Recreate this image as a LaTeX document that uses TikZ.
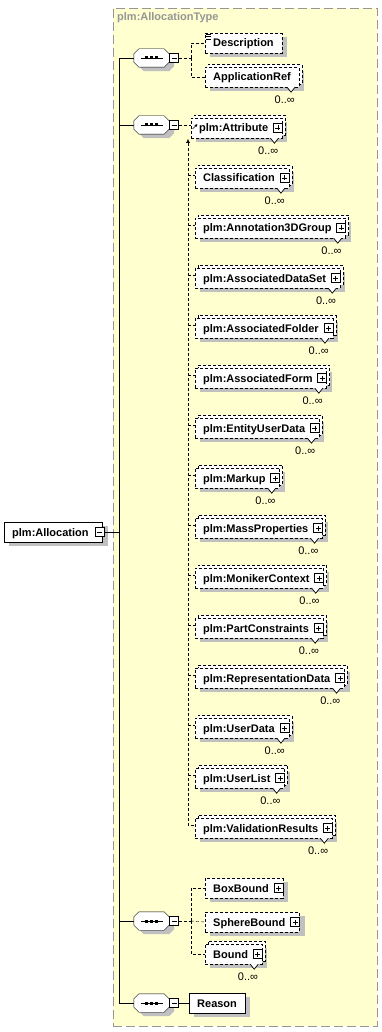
\documentclass[tikz,border=0pt]{standalone}
\usepackage{fontspec}
\setmainfont{Liberation Sans}
\usepackage{tikz}
\usetikzlibrary{arrows.meta,positioning,calc}
\definecolor{groupfill}{RGB}{255,255,208}
\definecolor{groupline}{RGB}{150,150,150}
\definecolor{shadegray}{RGB}{192,192,192}
\newcommand{\occ}{0..\char"221E}
\newcommand{\boxfont}{\fontsize{11}{12}\selectfont\bfseries}
\pgfdeclarelayer{frame}
\pgfdeclarelayer{shade}
\pgfsetlayers{frame,shade,main}

\begin{document}
\begin{tikzpicture}[x=1pt,y=-1pt,line width=0.9pt,
    elem/.style={draw,fill=white,anchor=west,font=\boxfont,minimum height=20pt,
      inner xsep=8pt,inner ysep=0pt,text height=8pt,text depth=0pt},
    opt/.style={dash pattern=on 3pt off 2pt},
    multi/.style={preaction={draw,fill=white,dash pattern=on 3pt off 2pt,
      transform canvas={shift={(3pt,3pt)}}}},
    expand/.style={execute at end node={\hspace*{6pt}}},
    plusbox/.style={draw,solid,fill=white,line width=0.7pt,minimum size=9pt,inner sep=0pt,
      path picture={\draw[line width=0.7pt]
        ([yshift=-2pt]path picture bounding box.north) -- ([yshift=2pt]path picture bounding box.south)
        ([xshift=2pt]path picture bounding box.west) -- ([xshift=-2pt]path picture bounding box.east);}},
    minusbox/.style={draw,solid,fill=white,line width=0.7pt,minimum size=9pt,inner sep=0pt,
      path picture={\draw[line width=0.7pt]
        ([xshift=2pt]path picture bounding box.west) -- ([xshift=-2pt]path picture bounding box.east);}},
    seq/.style={minimum width=35pt,minimum height=18pt,inner sep=0pt},
    conn/.style={dash pattern=on 3pt off 2pt},
    notch/.style={fill=white,line width=0.7pt},
    occ/.style={anchor=east,inner sep=0pt,font=\fontsize{11}{12}\selectfont},
    groupbox/.style={draw=groupline,fill=groupfill,dash pattern=on 9pt off 4pt,
      anchor=north west,inner sep=0pt}
  ]
  \useasboundingbox (0,0) rectangle (382,1032);

  % complex type frame
  \begin{pgfonlayer}{frame}
    \node[groupbox,minimum width=264pt,minimum height=1018pt] (grp) at (113,8) {};
  \end{pgfonlayer}
  \node[anchor=west,inner sep=0pt,text=groupline,font=\boxfont] (gtitle) at (117,18) {plm:AllocationType};

  % root element
  \node[elem,expand] (alloc) at (4,532) {plm:Allocation};
  \node[minusbox] (allocm) at ([xshift=-3pt]alloc.east) {};

  % sequences
  \node[seq] (s1) at (151.5,58) {};
  \node[seq] (s2) at (151.5,125) {};
  \node[seq] (s3) at (151.5,921) {};
  \node[seq] (s4) at (151.5,1003) {};
  \coordinate (tr) at (119,532);
  \draw (allocm.east) -- (tr);
  \foreach \s in {s1,s2,s3,s4} {
    \draw (tr) |- (\s.west);
    \fill[shadegray] ($(\s.north west)+(10,4)$) -- ($(\s.north east)+(0,4)$)
      -- ($(\s.north east)+(5,9)$) -- ($(\s.south east)+(5,-1)$)
      -- ($(\s.south east)+(0,4)$) -- ($(\s.south west)+(10,4)$)
      -- ($(\s.south west)+(5,-1)$) -- ($(\s.north west)+(5,9)$) -- cycle;
    \draw[fill=white] ([xshift=5pt]\s.north west) -- ([xshift=-5pt]\s.north east)
      -- ([yshift=-5pt]\s.north east) -- ([yshift=5pt]\s.south east)
      -- ([xshift=-5pt]\s.south east) -- ([xshift=5pt]\s.south west)
      -- ([yshift=5pt]\s.south west) -- ([yshift=-5pt]\s.north west) -- cycle;
    \draw[line width=0.8pt] ([xshift=-11pt]\s.center) -- ([xshift=11pt]\s.center);
    \foreach \dx in {-5,0,5}
      \fill ([xshift=\dx pt-1.5pt,yshift=-1.5pt]\s.center) rectangle ++(3pt,3pt);
    \node[minusbox,right=0pt of \s] (\s m) {};
  }

  % first sequence
  \node[elem,opt] (desc) at (205,43) {Description};
  \foreach \dy in {1.5,4,6.5}
    \draw[line width=0.7pt] ([xshift=0.5pt,yshift=-\dy pt]desc.north west) -- ++(5,0);
  \node[elem,opt,multi] (appref) at (205,77) {ApplicationRef};
  \draw[notch] ([xshift=-12pt]appref.south east) -- ++(4,5) -- ++(4,-5);
  \node[occ] (apprefo) at ([xshift=-4pt,yshift=-13pt]appref.south east) {\occ};
  \draw[conn] (s1m.east) -- ++(12,0) coordinate (b1);
  \draw[conn] (b1) |- (desc.west);
  \draw[conn] (b1) |- (appref.west);

  % second sequence
  \node[elem,opt,multi,expand] (g1) at (191,128) {plm:Attribute};
  \foreach \name [count=\k from 2] in {Classification,plm:Annotation3DGroup,plm:AssociatedDataSet,
      plm:AssociatedFolder,plm:AssociatedForm,plm:EntityUserData,plm:Markup,plm:MassProperties,
      plm:MonikerContext,plm:PartConstraints,plm:RepresentationData,plm:UserData,plm:UserList,
      plm:ValidationResults}
    \node[elem,opt,multi,expand] (g\k) at (195,{78+50*\k}) {\name};
  \foreach \k in {1,...,15} {
    \node[plusbox] (plus\k) at ([xshift=-4.5pt]g\k.east) {};
    \draw[notch] ([xshift=-12pt]g\k.south east) -- ++(4,5) -- ++(4,-5);
    \node[occ] (occ\k) at ([xshift=-4pt,yshift=-13pt]g\k.south east) {\occ};
  }
  \draw[line width=0.7pt,-{Latex[length=3pt,width=3pt]}] ([xshift=1.5pt,yshift=-1pt]g1.west) -- ++(5,-5);
  \draw[conn] (s2m.east) -- (s2m.east -| g1.west);
  \coordinate (vtop) at (188,139);
  \draw[conn,{Latex[length=4pt,width=4pt]}-] (vtop) |- ($(g15.west)+(0,-3)$);
  \foreach \k in {2,...,14}
    \draw[conn] ($(g\k.west -| vtop)+(0,-3)$) -- ($(g\k.west)+(0,-3)$);

  % third sequence
  \node[elem,opt,expand] (boxb) at (205,888) {BoxBound};
  \node[plusbox] (boxbp) at ([xshift=-4.5pt]boxb.east) {};
  \node[elem,opt,expand] (sphb) at (205,922) {SphereBound};
  \node[plusbox] (sphbp) at ([xshift=-4.5pt]sphb.east) {};
  \node[elem,opt,multi,expand] (bnd) at (205,954) {Bound};
  \node[plusbox] (bndp) at ([xshift=-4.5pt]bnd.east) {};
  \draw[notch] ([xshift=-12pt]bnd.south east) -- ++(4,5) -- ++(4,-5);
  \node[occ] (bndo) at ([xshift=-4pt,yshift=-13pt]bnd.south east) {\occ};
  \draw[conn] (s3m.east) -- ++(12,0) coordinate (b3);
  \draw[conn] (b3) |- (boxb.west);
  \draw[conn] (b3) -- (sphb.west);
  \draw[conn] (b3) |- (bnd.west);

  % fourth sequence
  \node[elem] (reason) at (189,1003) {Reason};
  \draw (s4m.east) -- (reason.west);

  % element shadows
  \begin{pgfonlayer}{shade}
    \foreach \n in {alloc,desc,appref,g1,g2,g3,g4,g5,g6,g7,g8,g9,g10,g11,g12,g13,g14,g15,boxb,sphb,bnd,reason}
      \fill[shadegray] ($(\n.south west)+(5,4)$) rectangle ($(\n.north east)+(5,4)$);
  \end{pgfonlayer}
\end{tikzpicture}
\end{document}
